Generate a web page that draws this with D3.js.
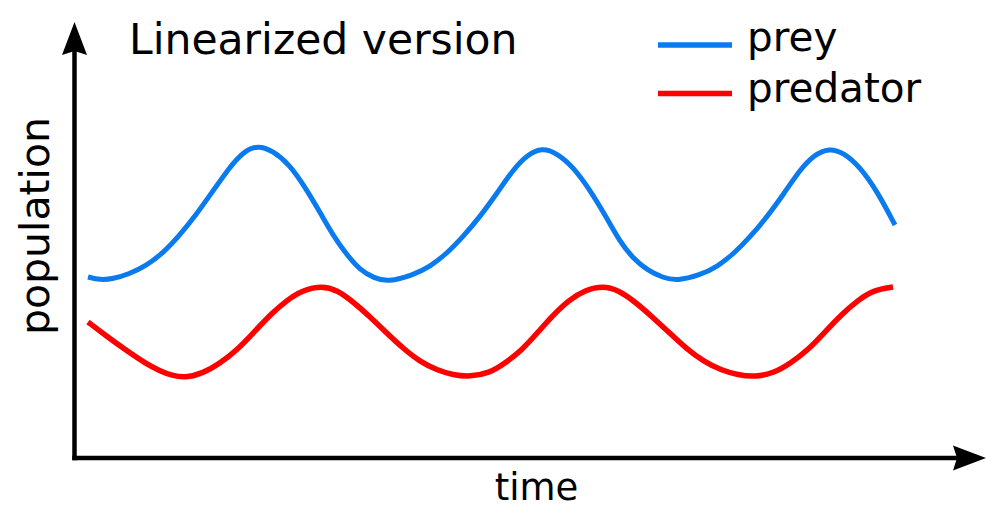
<!DOCTYPE html>
<html>
<head>
<meta charset="utf-8">
<script src="https://cdn.jsdelivr.net/npm/d3@7"></script>
<style>
  html, body { margin: 0; padding: 0; background: #fff; }
  svg { display: block; font-family: "DejaVu Sans", sans-serif; }
</style>
</head>
<body>
<svg id="chart" width="1000" height="525"></svg>
<script>
// ---- data (time and population in arbitrary units) ----
const title = "Linearized version";
const xLabel = "time";
const yLabel = "population";
const seriesNames = ["prey", "predator"];

const preyTime = [1.48, 2.80, 4.22, 5.98, 7.84, 9.71, 11.46, 13.33, 15.19, 16.95, 18.49, 20.13, 21.78, 23.53, 25.29, 27.04, 28.47, 29.90, 31.32, 32.86, 34.39, 37.14, 39.00, 40.87, 42.62, 44.49, 46.35, 48.11, 49.64, 51.29, 52.94, 54.69, 56.56, 58.42, 59.85, 61.27, 62.81, 64.56, 66.10, 68.62, 70.49, 72.35, 74.11, 75.97, 77.84, 79.59, 81.13, 82.78, 84.42, 86.18, 88.04, 90.02];
const preyValues = [41.51, 40.83, 41.06, 42.20, 44.04, 47.02, 50.92, 55.73, 61.24, 66.50, 70.20, 71.79, 70.40, 67.43, 62.16, 55.96, 50.69, 46.56, 43.12, 41.28, 40.37, 41.97, 43.88, 46.95, 50.76, 55.34, 60.71, 66.10, 69.50, 71.17, 69.90, 66.81, 61.47, 54.98, 49.61, 45.80, 43.12, 41.35, 40.60, 41.97, 43.81, 46.90, 50.69, 55.28, 60.67, 66.10, 69.50, 71.10, 70.00, 66.74, 61.24, 53.44];

const predatorTime = [1.48, 3.35, 5.76, 7.73, 9.38, 10.70, 12.12, 14.10, 15.96, 17.83, 19.58, 21.45, 23.31, 25.07, 27.15, 28.80, 30.55, 32.42, 34.28, 36.04, 37.90, 39.77, 41.53, 43.39, 45.48, 47.23, 49.09, 50.74, 52.50, 54.25, 56.01, 57.98, 59.63, 61.49, 63.36, 65.33, 67.09, 69.06, 70.93, 72.79, 74.66, 76.74, 78.61, 80.47, 82.23, 84.09, 85.96, 87.71, 89.80];
const predatorValues = [31.19, 28.21, 24.54, 21.79, 19.95, 18.92, 18.35, 19.43, 21.72, 24.77, 28.60, 32.80, 36.24, 38.53, 39.45, 38.53, 35.85, 32.41, 28.60, 25.16, 22.09, 20.18, 19.04, 18.65, 19.43, 21.72, 24.77, 28.60, 32.80, 36.24, 38.53, 39.45, 38.53, 35.85, 32.41, 28.60, 25.16, 22.09, 20.18, 19.04, 18.58, 19.50, 21.79, 24.77, 28.67, 32.80, 36.24, 38.53, 39.22];

const colors = ["#0a7bee", "#ff0000"];

// ---- scales ----
const svg = d3.select("#chart");
const x = d3.scaleLinear().domain([0, 100]).range([74.5, 986]);
const y = d3.scaleLinear().domain([0, 100]).range([458, 22]);

const line = d3.line()
  .x(d => x(d[0]))
  .y(d => y(d[1]))
  .curve(d3.curveBasis);

const series = [
  d3.zip(preyTime, preyValues),
  d3.zip(predatorTime, predatorValues)
];

// ---- axes with arrowheads ----
const axisG = svg.append("g");
const [x0, x1] = x.range();
const [yBottom, yTop] = y.range();
const headLen = 33, headHalf = 12.5;

axisG.append("line")
  .attr("x1", x0).attr("x2", x1 - headLen + 2)
  .attr("y1", yBottom).attr("y2", yBottom)
  .attr("stroke", "#000").attr("stroke-width", 4.5).attr("stroke-linecap", "square");
axisG.append("line")
  .attr("x1", x0).attr("x2", x0)
  .attr("y1", yBottom).attr("y2", yTop + headLen - 2)
  .attr("stroke", "#000").attr("stroke-width", 4.5).attr("stroke-linecap", "square");

axisG.append("path")
  .attr("d", `M${x1},${yBottom} L${x1 - headLen},${yBottom - headHalf} L${x1 - headLen + 4},${yBottom} L${x1 - headLen},${yBottom + headHalf} Z`)
  .attr("fill", "#000");
axisG.append("path")
  .attr("d", `M${x0},${yTop} L${x0 - headHalf},${yTop + headLen} L${x0},${yTop + headLen - 4} L${x0 + headHalf},${yTop + headLen} Z`)
  .attr("fill", "#000");

// ---- lines ----
svg.append("g").selectAll("path.series")
  .data(series)
  .join("path")
  .attr("class", "series")
  .attr("d", line)
  .attr("fill", "none")
  .attr("stroke", (d, i) => colors[i])
  .attr("stroke-width", (d, i) => i === 0 ? 5 : 5.5);

// ---- texts ----
svg.append("text")
  .attr("x", 129).attr("y", 54)
  .attr("font-size", 42.5)
  .text(title);

svg.append("text")
  .attr("x", 536.5).attr("y", 500)
  .attr("text-anchor", "middle")
  .attr("font-size", 37)
  .text(xLabel);

svg.append("text")
  .attr("transform", `translate(49,226) rotate(-90)`)
  .attr("text-anchor", "middle")
  .attr("font-size", 41)
  .text(yLabel);

// ---- legend ----
const legend = svg.append("g");
const legendY = [45, 93.5];
const legendTextY = [51, 102];
seriesNames.forEach((name, i) => {
  legend.append("line")
    .attr("x1", 658).attr("x2", 732)
    .attr("y1", legendY[i]).attr("y2", legendY[i])
    .attr("stroke", colors[i]).attr("stroke-width", 5.5);
  legend.append("text")
    .attr("x", 747).attr("y", legendTextY[i])
    .attr("font-size", 40.5)
    .text(name);
});
</script>
</body>
</html>
